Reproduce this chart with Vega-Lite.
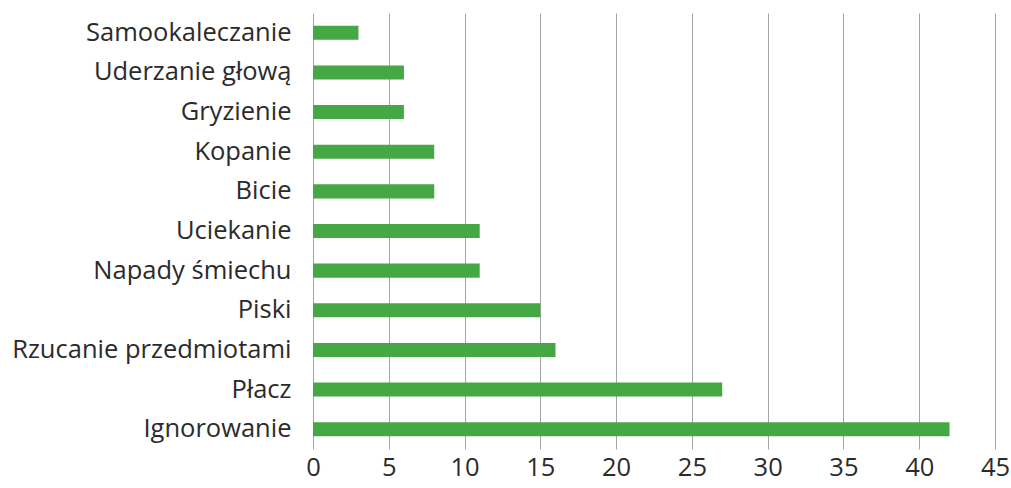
{
  "$schema": "https://vega.github.io/schema/vega-lite/v6.json",
  "width": 682,
  "height": 436,
  "autosize": {"type": "none"},
  "padding": {"left": 313, "top": 13, "right": 16, "bottom": 39},
  "background": "white",
  "config": {"view": {"stroke": null}, "font": "Open Sans"},
  "data": {
    "values": [
      {"category": "Samookaleczanie", "value": 3},
      {"category": "Uderzanie głową", "value": 6},
      {"category": "Gryzienie", "value": 6},
      {"category": "Kopanie", "value": 8},
      {"category": "Bicie", "value": 8},
      {"category": "Uciekanie", "value": 11},
      {"category": "Napady śmiechu", "value": 11},
      {"category": "Piski", "value": 15},
      {"category": "Rzucanie przedmiotami", "value": 16},
      {"category": "Płacz", "value": 27},
      {"category": "Ignorowanie", "value": 42}
    ]
  },
  "mark": {"type": "bar", "color": "#45a845"},
  "encoding": {
    "y": {
      "field": "category",
      "type": "nominal",
      "sort": null,
      "scale": {"paddingInner": 0.646, "paddingOuter": 0.323},
      "axis": {
        "title": null,
        "domain": false,
        "ticks": false,
        "labelFontSize": 25.5,
        "labelColor": "#2b2b2b",
        "labelPadding": 22,
        "labelLimit": 400,
        "labelFont": "Open Sans"
      }
    },
    "x": {
      "field": "value",
      "type": "quantitative",
      "scale": {"domain": [0, 45], "nice": false},
      "axis": {
        "title": null,
        "values": [0, 5, 10, 15, 20, 25, 30, 35, 40, 45],
        "domain": false,
        "ticks": false,
        "grid": true,
        "gridColor": "#a6a6a6",
        "gridWidth": 1,
        "labelFontSize": 25.5,
        "labelColor": "#2b2b2b",
        "labelPadding": 6,
        "labelFont": "Open Sans",
        "labelFlush": false
      }
    }
  }
}
